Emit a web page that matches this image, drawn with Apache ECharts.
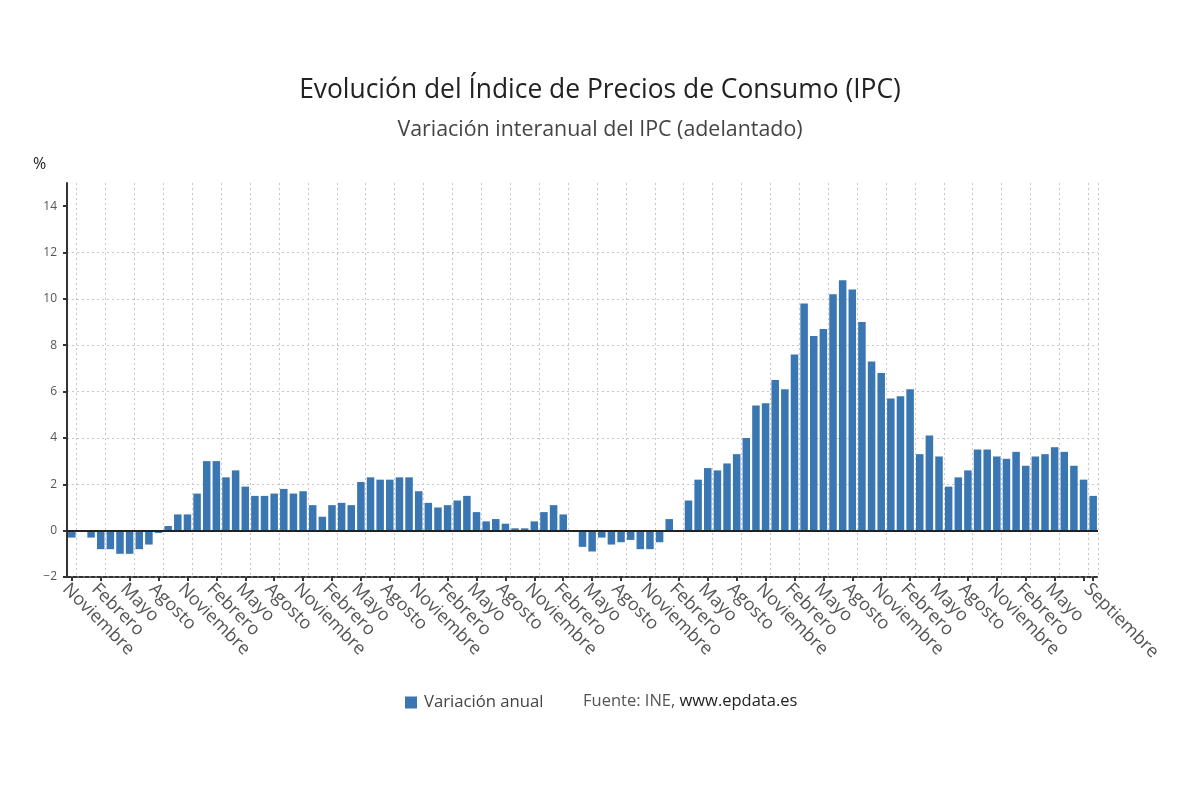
<!DOCTYPE html>
<html>
<head>
<meta charset="utf-8">
<script src="https://cdn.jsdelivr.net/npm/echarts@6/dist/echarts.min.js"></script>
<style>
html,body{margin:0;padding:0;background:#fff;}
#chart{width:1200px;height:788px;}
</style>
</head>
<body>
<div id="chart"></div>
<script>
// Months (Spanish) used to build the category labels, Nov 2015 .. Sep 2024
const monthNames = ['Enero','Febrero','Marzo','Abril','Mayo','Junio','Julio','Agosto','Septiembre','Octubre','Noviembre','Diciembre'];
const startYear = 2015, startMonth = 10; // Noviembre 2015 (0-based month)
const nMonths = 107;
const categories = [];
for (let k = 0; k < nMonths; k++) {
  const m = (startMonth + k) % 12;
  const y = startYear + Math.floor((startMonth + k) / 12);
  categories.push(monthNames[m] + ' ' + y);
}

// Variación anual del IPC (%)
const values2015 = [-0.3, 0.0];
const values2016 = [-0.3, -0.8, -0.8, -1.0, -1.0, -0.8, -0.6, -0.1, 0.2, 0.7, 0.7, 1.6];
const values2017 = [3.0, 3.0, 2.3, 2.6, 1.9, 1.5, 1.5, 1.6, 1.8, 1.6, 1.7, 1.1];
const values2018 = [0.6, 1.1, 1.2, 1.1, 2.1, 2.3, 2.2, 2.2, 2.3, 2.3, 1.7, 1.2];
const values2019 = [1.0, 1.1, 1.3, 1.5, 0.8, 0.4, 0.5, 0.3, 0.1, 0.1, 0.4, 0.8];
const values2020 = [1.1, 0.7, 0.0, -0.7, -0.9, -0.3, -0.6, -0.5, -0.4, -0.8, -0.8, -0.5];
const values2021 = [0.5, 0.0, 1.3, 2.2, 2.7, 2.6, 2.9, 3.3, 4.0, 5.4, 5.5, 6.5];
const values2022 = [6.1, 7.6, 9.8, 8.4, 8.7, 10.2, 10.8, 10.4, 9.0, 7.3, 6.8, 5.7];
const values2023 = [5.8, 6.1, 3.3, 4.1, 3.2, 1.9, 2.3, 2.6, 3.5, 3.5, 3.2, 3.1];
const values2024 = [3.4, 2.8, 3.2, 3.3, 3.6, 3.4, 2.8, 2.2, 1.5];
const variacionAnual = [].concat(values2015, values2016, values2017, values2018, values2019,
  values2020, values2021, values2022, values2023, values2024);

const yTicks = [-2, 0, 2, 4, 6, 8, 10, 12, 14];

const FONT = "'Open Sans', 'Noto Sans', sans-serif";
const labelShown = (i) => (i % 3 === 0 && i !== 105) || i === nMonths - 1;
const tickShown = (i) => i % 3 === 0 || i === nMonths - 1;
const GRID = '#c9c5d3';

const chart = echarts.init(document.getElementById('chart'), null, {renderer: 'canvas'});
chart.setOption({
  backgroundColor: '#ffffff',
  animation: false,
  title: [
    {
      text: 'Evolución del Índice de Precios de Consumo (IPC)',
      left: 'center', top: 72,
      textStyle: {fontFamily: FONT, fontSize: 26.4, fontWeight: 'normal', color: '#222'}
    },
    {
      text: 'Variación interanual del IPC (adelantado)',
      left: 'center', top: 114,
      textStyle: {fontFamily: FONT, fontSize: 21.4, fontWeight: 'normal', color: '#444'}
    },
    {
      text: '%',
      left: 28, top: 151,
      textStyle: {fontFamily: FONT, fontSize: 16, fontWeight: 'normal', color: '#222'}
    },
    {
      text: '{a|Fuente: INE, }{b|www.epdata.es}',
      left: 578, top: 688,
      textStyle: {
        fontWeight: 'normal',
        rich: {
          a: {fontFamily: FONT, fontSize: 16.5, fontWeight: 'normal', color: '#555'},
          b: {fontFamily: FONT, fontSize: 16.5, fontWeight: 'normal', color: '#222'}
        }
      }
    }
  ],
  legend: {
    left: 400, top: 689,
    icon: 'rect', itemWidth: 12, itemHeight: 12, itemGap: 20,
    textStyle: {fontFamily: FONT, fontSize: 16.7, color: '#444', padding: [0, 0, 0, 2]},
    data: ['Variación anual']
  },
  grid: {left: 67, right: 102, top: 183, bottom: 211, containLabel: false},
  xAxis: {
    type: 'category',
    data: categories,
    boundaryGap: true,
    axisLine: {onZero: false, lineStyle: {color: '#333', width: 2, type: [4, 2]}},
    axisTick: {show: true, alignWithLabel: true, interval: (i) => tickShown(i), length: 4, inside: false,
      lineStyle: {color: '#333', width: 2}},
    axisLabel: {
      interval: (i) => labelShown(i),
      rotate: -45, margin: 3, verticalAlign: 'top',
      fontFamily: FONT, fontSize: 18, color: '#555',
      formatter: (v) => v.split(' ')[0]
    },
    splitLine: {show: true, interval: (i) => i % 3 === 1,
      lineStyle: {color: GRID, width: 1, type: [2, 3]}}
  },
  yAxis: {
    type: 'value',
    min: -2, max: 15, interval: 2,
    axisLine: {show: true, lineStyle: {color: '#333', width: 2}},
    axisTick: {show: true, length: 4, customValues: yTicks, lineStyle: {color: '#333', width: 2}},
    axisLabel: {customValues: yTicks, margin: 10, fontFamily: FONT, fontSize: 12, color: '#555',
      formatter: (v) => (v < 0 ? '\u2212' + Math.abs(v) : String(v))},
    splitLine: {show: true, showMaxLine: false,
      lineStyle: {color: [GRID, GRID, GRID, GRID, GRID, GRID, GRID, GRID, GRID, 'rgba(0,0,0,0)'],
        width: 1, type: [2, 3]}}
  },
  series: [{
    name: 'Variación anual',
    type: 'bar',
    data: variacionAnual,
    barCategoryGap: '22%',
    itemStyle: {color: '#3a77b2'},
    markLine: {
      silent: true, symbol: 'none', label: {show: false},
      lineStyle: {color: '#222', width: 2, type: 'solid'},
      data: [{yAxis: 0}]
    }
  }]
});
</script>
</body>
</html>
